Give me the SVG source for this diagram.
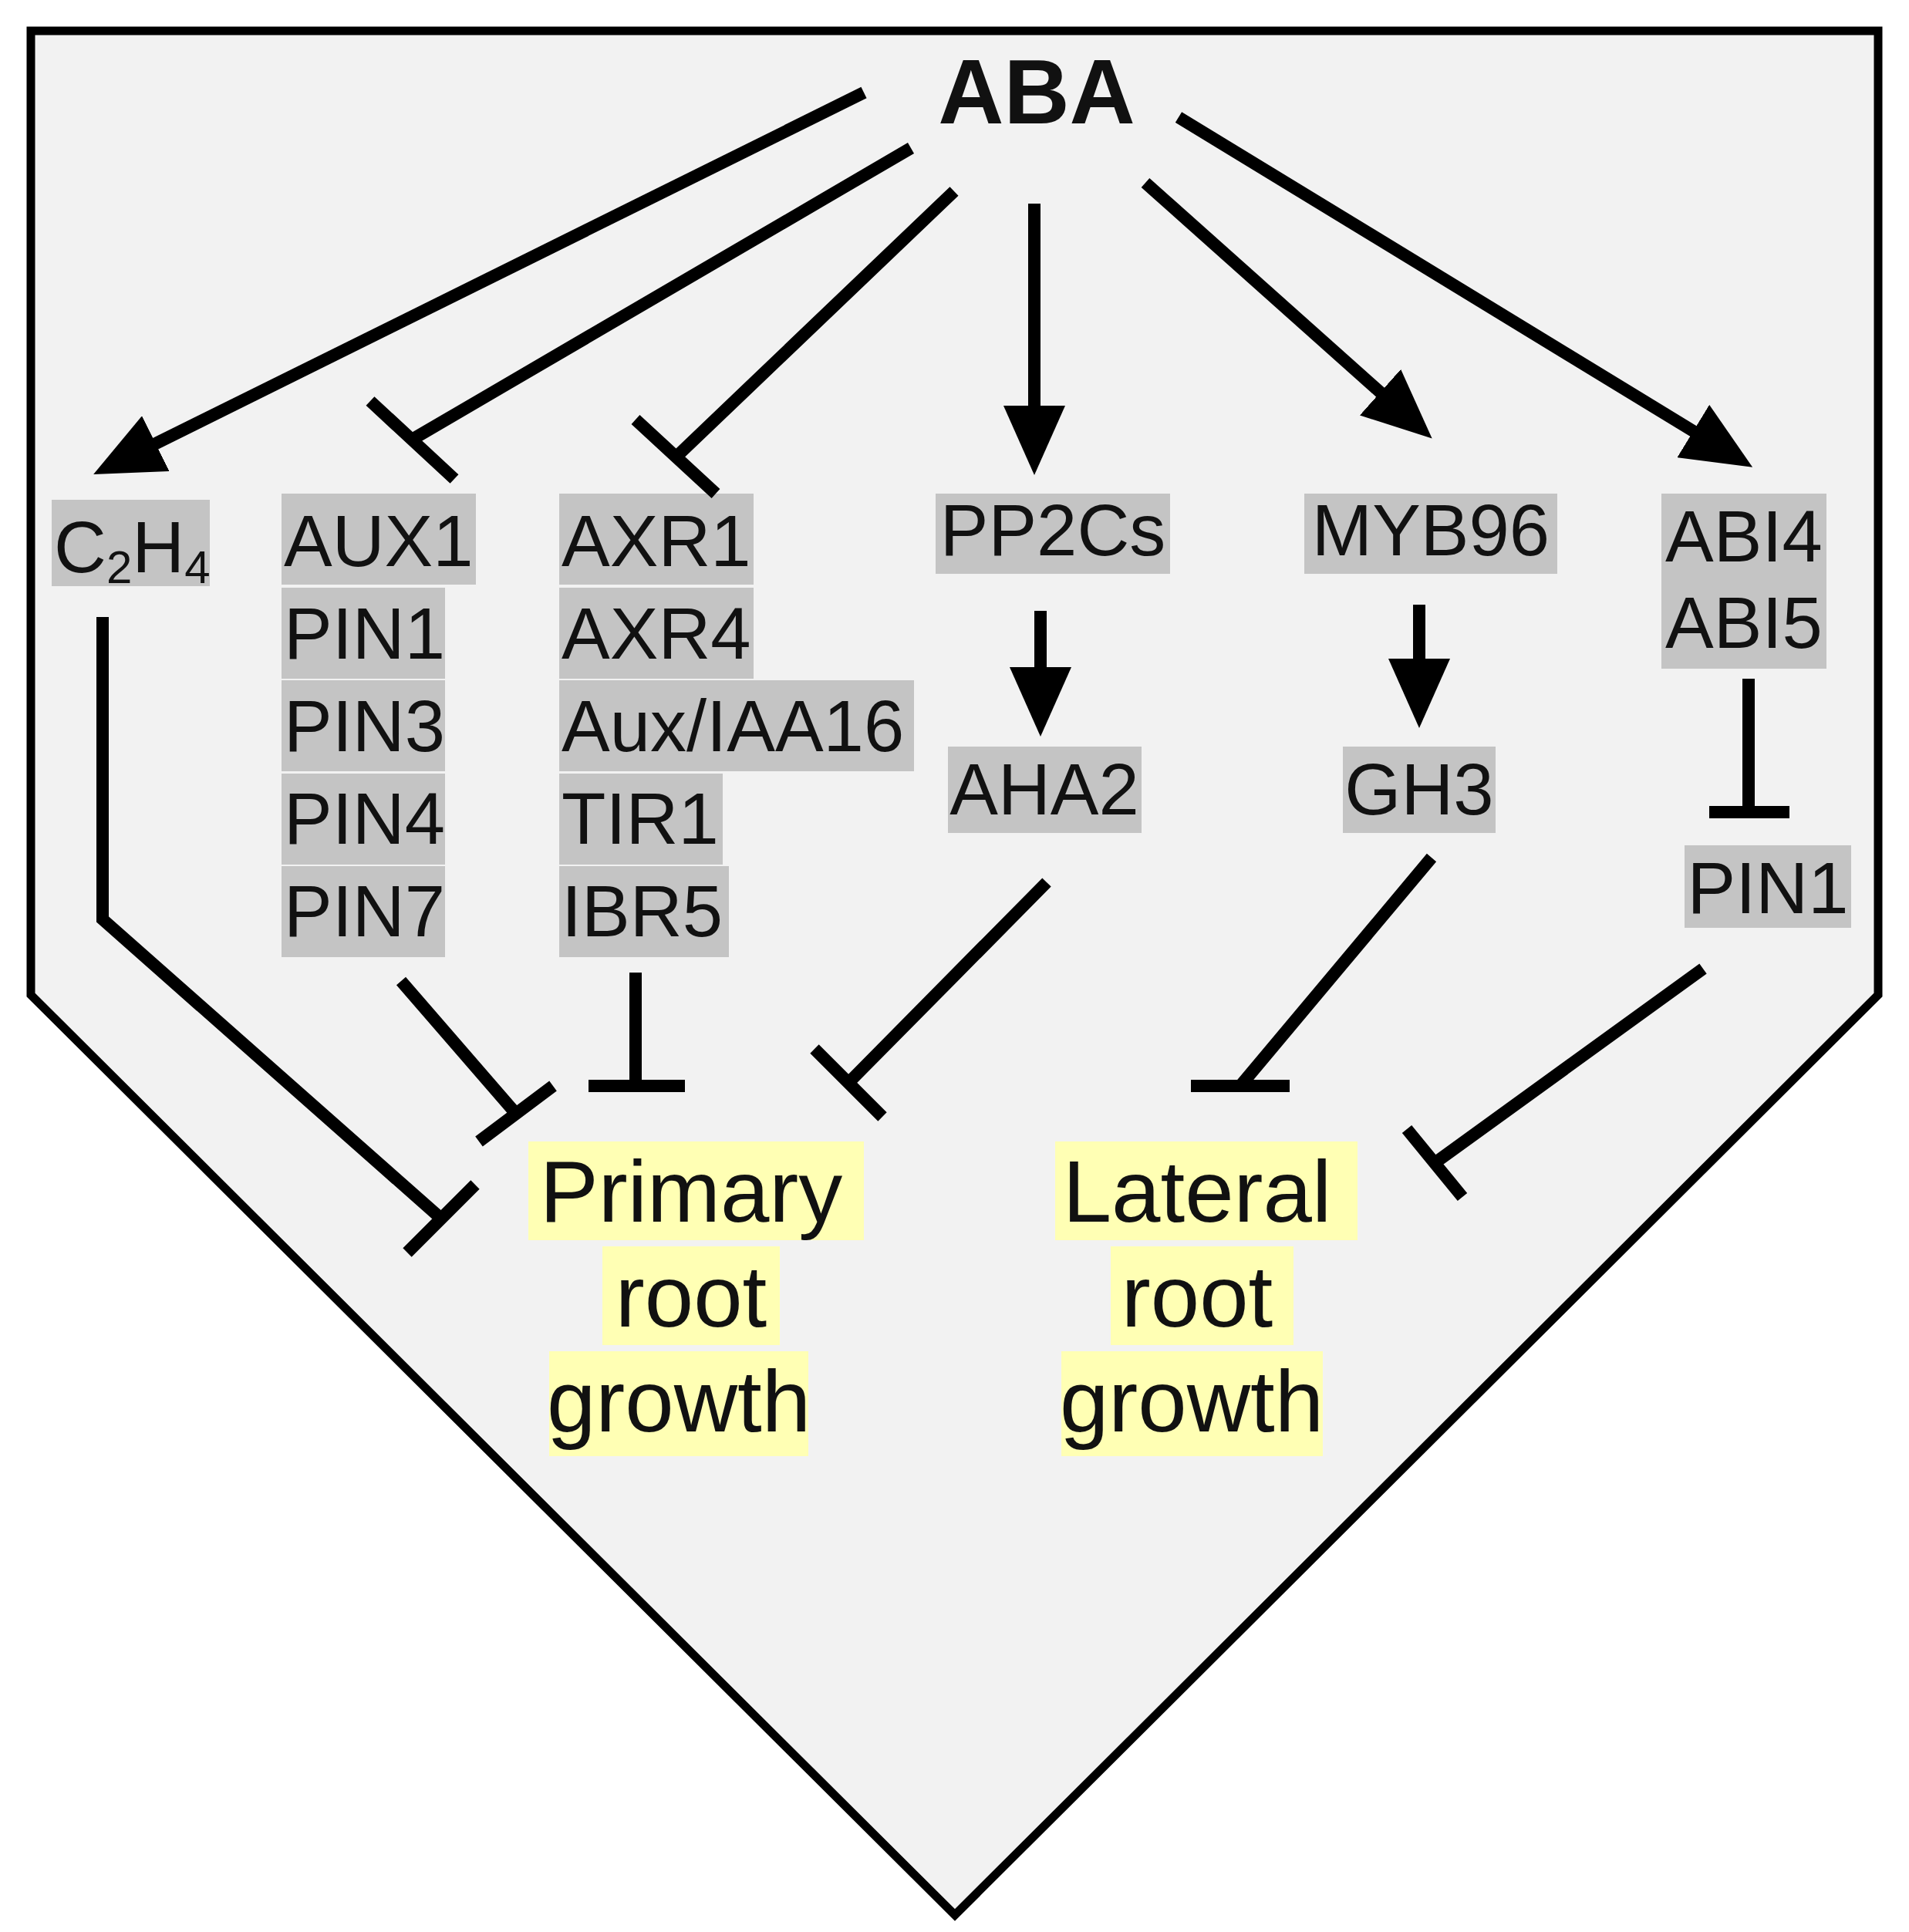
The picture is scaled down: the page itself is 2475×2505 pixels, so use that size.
<svg xmlns="http://www.w3.org/2000/svg" width="2475" height="2505" viewBox="0 0 2475 2505">
<defs>
<style>
.t{font-family:"Liberation Sans",Arial,sans-serif;font-size:94px;fill:#111}
.b{font-family:"Liberation Sans",Arial,sans-serif;font-size:114px;fill:#111}
.g{fill:#c4c4c4}
.y{fill:#ffffb4}
.c{stroke:#000;stroke-width:16;fill:none}
</style>
<marker id="ar" markerUnits="userSpaceOnUse" markerWidth="90" markerHeight="80" viewBox="0 0 90 80" refX="2" refY="40" orient="auto"><path d="M0,0 L90,40 L0,80 Z" fill="#000"/></marker>
</defs>
<path d="M40,40 L2435,40 L2435,1290 L1238,2483 L40,1290 Z" fill="#f2f2f2" stroke="#000" stroke-width="11"/>
<g id="ABA"><text x="1344" y="160" text-anchor="middle" class="t" style="font-size:118px;font-weight:bold">ABA</text></g>
<g id="C2H4"><rect class="g" x="67" y="648" width="205" height="112"/><text x="70" y="742" class="t">C<tspan font-size="60" dy="14">2</tspan><tspan dy="-14">H</tspan><tspan font-size="60" dy="14">4</tspan></text></g>
<g id="auxcol">
<rect class="g" x="365" y="640" width="252" height="118"/>
<rect class="g" x="365" y="762" width="212" height="118"/>
<rect class="g" x="365" y="882" width="212" height="118"/>
<rect class="g" x="365" y="1003" width="212" height="118"/>
<rect class="g" x="365" y="1123" width="212" height="118"/>
<text x="368" y="734" class="t">AUX1</text><text x="368" y="854" class="t">PIN1</text><text x="368" y="974" class="t">PIN3</text><text x="368" y="1094" class="t">PIN4</text><text x="368" y="1214" class="t">PIN7</text>
</g>
<g id="axrcol">
<rect class="g" x="725" y="640" width="252" height="118"/>
<rect class="g" x="725" y="762" width="252" height="118"/>
<rect class="g" x="725" y="882" width="460" height="118"/>
<rect class="g" x="725" y="1003" width="212" height="118"/>
<rect class="g" x="725" y="1123" width="220" height="118"/>
<text x="728" y="734" class="t">AXR1</text><text x="728" y="854" class="t">AXR4</text><text x="728" y="974" class="t">Aux/IAA16</text><text x="728" y="1094" class="t">TIR1</text><text x="728" y="1214" class="t">IBR5</text>
</g>
<g id="PP2Cs"><rect class="g" x="1213" y="640" width="304" height="104"/><text x="1365" y="720" text-anchor="middle" class="t">PP2Cs</text></g>
<g id="AHA2"><rect class="g" x="1229" y="968" width="251" height="112"/><text x="1354" y="1056" text-anchor="middle" class="t">AHA2</text></g>
<g id="MYB96"><rect class="g" x="1691" y="640" width="328" height="104"/><text x="1855" y="720" text-anchor="middle" class="t">MYB96</text></g>
<g id="GH3"><rect class="g" x="1741" y="968" width="198" height="112"/><text x="1840" y="1056" text-anchor="middle" class="t">GH3</text></g>
<g id="ABI"><rect class="g" x="2154" y="640" width="214" height="112"/><rect class="g" x="2154" y="752" width="214" height="115"/><text x="2261" y="728" text-anchor="middle" class="t">ABI4</text><text x="2261" y="840" text-anchor="middle" class="t">ABI5</text></g>
<g id="PIN1r"><rect class="g" x="2184" y="1096" width="216" height="107"/><text x="2292" y="1184" text-anchor="middle" class="t">PIN1</text></g>
<g id="primary">
<rect class="y" x="685" y="1480" width="435" height="128"/><rect class="y" x="781" y="1616" width="230" height="128"/><rect class="y" x="712" y="1752" width="336" height="136"/>
<text x="896" y="1584" text-anchor="middle" class="b">Primary</text><text x="896" y="1720" text-anchor="middle" class="b">root</text><text x="880" y="1856" text-anchor="middle" class="b">growth</text>
</g>
<g id="lateral">
<rect class="y" x="1368" y="1480" width="392" height="128"/><rect class="y" x="1440" y="1616" width="237" height="128"/><rect class="y" x="1376" y="1752" width="339" height="136"/>
<text x="1552" y="1584" text-anchor="middle" class="b">Lateral</text><text x="1552" y="1720" text-anchor="middle" class="b">root</text><text x="1545" y="1856" text-anchor="middle" class="b">growth</text>
</g>
<g id="connectors">
<path class="c" d="M1120,120 L200,576" marker-end="url(#ar)"/>
<path class="c" d="M1341,264 L1341,528" marker-end="url(#ar)"/>
<path class="c" d="M1485,237 L1791,510" marker-end="url(#ar)"/>
<path class="c" d="M1528,152 L2197,560" marker-end="url(#ar)"/>
<path class="c" d="M1349,792 L1349,867" marker-end="url(#ar)"/>
<path class="c" d="M1840,784 L1840,856" marker-end="url(#ar)"/>
<path class="c" d="M1181,192 L534,570 M480,520 L589,621"/>
<path class="c" d="M1237,248 L877,592 M824,544 L928,640"/>
<path class="c" d="M2267,880 L2267,1053 M2216,1053 L2320,1053"/>
<path class="c" d="M133,800 L133,1192 L572,1580 M528,1624 L616,1536"/>
<path class="c" d="M520,1272 L669,1444 M621,1480 L717,1408"/>
<path class="c" d="M824,1261 L824,1408 M763,1408 L888,1408"/>
<path class="c" d="M1357,1144 L1100,1404 M1056,1360 L1144,1448"/>
<path class="c" d="M1856,1112 L1608,1408 M1544,1408 L1672,1408"/>
<path class="c" d="M2208,1256 L1860,1508 M1824,1464 L1896,1552"/>
</g>
</svg>
